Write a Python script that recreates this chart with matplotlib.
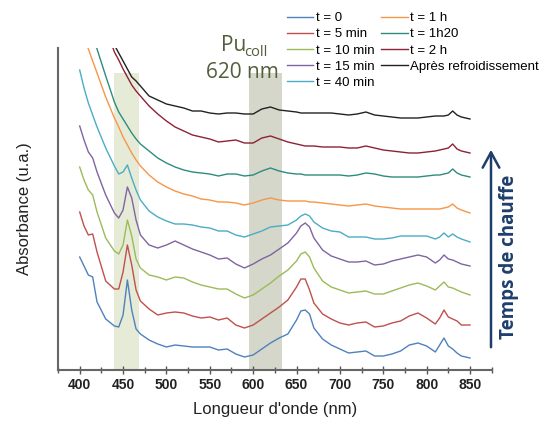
import matplotlib
matplotlib.use("Agg")
import matplotlib.pyplot as plt
from matplotlib.ticker import MultipleLocator

# wavelength grid (nm) and absorbance (u.a.)
wavelength = [400, 405, 410, 415, 420, 430, 440, 445, 450, 455, 460, 465, 470,
              480, 490, 500, 510, 520, 530, 540, 550, 560, 570, 580, 590, 600,
              610, 620, 630, 640, 650, 655, 660, 665, 670, 680, 690, 700, 710,
              720, 730, 740, 750, 760, 770, 780, 790, 800, 810, 815, 820, 825,
              830, 835, 840, 850]

t_0 = [1.13, 1.04, 0.95, 0.93, 0.68, 0.51, 0.44, 0.43, 0.55, 0.90, 0.60, 0.41, 0.36,
       0.30, 0.26, 0.23, 0.25, 0.24, 0.23, 0.23, 0.23, 0.20, 0.21, 0.16, 0.13, 0.15,
       0.21, 0.27, 0.32, 0.36, 0.50, 0.59, 0.60, 0.56, 0.42, 0.31, 0.25, 0.21, 0.17,
       0.18, 0.19, 0.14, 0.14, 0.16, 0.19, 0.25, 0.27, 0.24, 0.18, 0.25, 0.32, 0.24,
       0.21, 0.17, 0.14, 0.12]
t_5min = [1.58, 1.44, 1.35, 1.36, 1.18, 0.89, 0.81, 0.81, 0.98, 1.25, 1.05, 0.80, 0.69,
          0.61, 0.55, 0.57, 0.58, 0.57, 0.54, 0.52, 0.53, 0.50, 0.52, 0.45, 0.42, 0.45,
          0.51, 0.57, 0.63, 0.70, 0.83, 0.91, 0.91, 0.80, 0.67, 0.56, 0.51, 0.47, 0.45,
          0.47, 0.48, 0.43, 0.44, 0.47, 0.49, 0.54, 0.57, 0.52, 0.46, 0.52, 0.60, 0.53,
          0.51, 0.49, 0.45, 0.45]
t_10min = [2.03, 1.90, 1.80, 1.75, 1.58, 1.32, 1.19, 1.16, 1.25, 1.50, 1.34, 1.11, 1.02,
           0.95, 0.93, 0.90, 0.93, 0.92, 0.88, 0.85, 0.83, 0.81, 0.81, 0.76, 0.72, 0.75,
           0.81, 0.87, 0.94, 1.00, 1.09, 1.16, 1.18, 1.13, 1.02, 0.89, 0.83, 0.80, 0.77,
           0.78, 0.79, 0.76, 0.76, 0.79, 0.82, 0.85, 0.87, 0.84, 0.80, 0.84, 0.88, 0.83,
           0.82, 0.80, 0.78, 0.75]
t_15min = [2.44, 2.30, 2.18, 2.12, 1.98, 1.75, 1.57, 1.52, 1.60, 1.83, 1.72, 1.50, 1.35,
           1.25, 1.22, 1.25, 1.29, 1.25, 1.21, 1.18, 1.15, 1.11, 1.12, 1.06, 1.02, 1.06,
           1.11, 1.15, 1.21, 1.27, 1.37, 1.44, 1.47, 1.43, 1.32, 1.20, 1.14, 1.11, 1.08,
           1.08, 1.09, 1.05, 1.06, 1.09, 1.11, 1.13, 1.15, 1.13, 1.07, 1.10, 1.15, 1.11,
           1.10, 1.08, 1.06, 1.04]
t_40min = [3.00, 2.82, 2.67, 2.55, 2.43, 2.22, 2.04, 1.96, 1.98, 2.05, 1.92, 1.80, 1.70,
           1.59, 1.53, 1.49, 1.46, 1.46, 1.45, 1.43, 1.42, 1.39, 1.39, 1.35, 1.33, 1.36,
           1.39, 1.43, 1.44, 1.45, 1.50, 1.54, 1.56, 1.54, 1.48, 1.42, 1.39, 1.38, 1.33,
           1.33, 1.33, 1.31, 1.31, 1.32, 1.34, 1.34, 1.34, 1.34, 1.31, 1.33, 1.37, 1.33,
           1.36, 1.33, 1.31, 1.28]
t_1h = [3.45, 3.33, 3.21, 3.09, 2.97, 2.73, 2.52, 2.43, 2.33, 2.25, 2.17, 2.10, 2.04,
        1.95, 1.88, 1.83, 1.79, 1.76, 1.74, 1.71, 1.70, 1.68, 1.68, 1.67, 1.65, 1.67,
        1.70, 1.72, 1.70, 1.69, 1.69, 1.69, 1.69, 1.68, 1.68, 1.67, 1.66, 1.65, 1.64,
        1.65, 1.66, 1.64, 1.63, 1.62, 1.61, 1.61, 1.61, 1.61, 1.61, 1.61, 1.62, 1.63,
        1.66, 1.62, 1.60, 1.57]
t_1h20 = [3.76, 3.63, 3.50, 3.36, 3.21, 2.94, 2.68, 2.58, 2.51, 2.44, 2.37, 2.31, 2.26,
          2.19, 2.12, 2.07, 2.03, 2.00, 1.98, 1.97, 1.96, 1.94, 1.96, 1.96, 1.94, 1.95,
          1.99, 2.02, 1.99, 1.97, 1.96, 1.96, 1.95, 1.95, 1.95, 1.95, 1.95, 1.95, 1.94,
          1.95, 1.97, 1.96, 1.94, 1.93, 1.93, 1.93, 1.93, 1.94, 1.95, 1.95, 1.96, 1.97,
          2.01, 1.97, 1.95, 1.93]
t_2h = [4.09, 3.98, 3.87, 3.76, 3.65, 3.43, 3.18, 3.10, 3.01, 2.93, 2.85, 2.79, 2.74,
        2.64, 2.56, 2.49, 2.43, 2.39, 2.35, 2.33, 2.31, 2.28, 2.29, 2.30, 2.27, 2.27,
        2.32, 2.34, 2.31, 2.28, 2.26, 2.25, 2.24, 2.24, 2.24, 2.23, 2.23, 2.23, 2.22,
        2.22, 2.24, 2.22, 2.20, 2.19, 2.18, 2.17, 2.17, 2.18, 2.19, 2.20, 2.21, 2.22,
        2.26, 2.21, 2.19, 2.17]
apres = [3.93, 3.85, 3.76, 3.68, 3.60, 3.43, 3.25, 3.17, 3.09, 3.01, 2.93, 2.89, 2.84,
         2.74, 2.70, 2.66, 2.64, 2.62, 2.59, 2.59, 2.57, 2.56, 2.57, 2.57, 2.56, 2.56,
         2.61, 2.63, 2.60, 2.59, 2.58, 2.57, 2.57, 2.57, 2.57, 2.57, 2.57, 2.56, 2.55,
         2.56, 2.58, 2.55, 2.54, 2.53, 2.52, 2.52, 2.52, 2.53, 2.54, 2.54, 2.54, 2.55,
         2.59, 2.55, 2.53, 2.51]

series = [t_0, t_5min, t_10min, t_15min, t_40min, t_1h, t_1h20, t_2h, apres]
labels = ["t = 0", "t = 5 min", "t = 10 min", "t = 15 min", "t = 40 min",
          "t = 1 h", "t = 1h20", "t = 2 h", "Après refroidissement"]
colors = ["#4f81bd", "#c0504d", "#9bbb59", "#8064a2", "#4bacc6",
          "#f79646", "#2e8b80", "#8e2235", "#222222"]

plt.rcParams["font.family"] = ["Liberation Sans", "DejaVu Sans"]

fig = plt.figure(figsize=(5.44, 4.26), dpi=100)
ax = fig.add_axes([58 / 544, 1 - 370 / 426, (491.7 - 58) / 544, (370 - 48) / 426])

# highlighted bands
ax.axvspan(440, 468, ymax=0.922, color="#e6ebd8", lw=0, zorder=0)
ax.axvspan(595, 633, ymax=0.922, color="#d4d7c9", lw=0, zorder=0)

for y, lab, c in zip(series, labels, colors):
    ax.plot(wavelength, y, color=c, lw=1.0, label=lab)

ax.set_xlim(375, 875)
ax.set_ylim(0, 3.22)
ax.xaxis.set_major_locator(MultipleLocator(50))
ax.xaxis.set_minor_locator(MultipleLocator(25))
ax.set_xticks(range(400, 851, 50))
ax.tick_params(axis="x", which="major", direction="inout", length=6, width=1,
               color="#555555", pad=3)
ax.tick_params(axis="x", which="minor", direction="inout", length=5, width=1,
               color="#555555")
ax.tick_params(axis="y", left=False, labelleft=False)
for lbl in ax.get_xticklabels():
    lbl.set_fontweight("bold")
    lbl.set_fontsize(10)
    lbl.set_color("#222222")

for s in ["top", "right"]:
    ax.spines[s].set_visible(False)
for s in ["left", "bottom"]:
    ax.spines[s].set_color("#666666")
    ax.spines[s].set_linewidth(1.5)

ax.set_xlabel("Longueur d'onde (nm)", fontsize=12, labelpad=7, color="#222222")
ax.set_ylabel("Absorbance (u.a.)", fontsize=12, labelpad=19, color="#222222")

# Pu colloid annotation
ax.text(577, 3.25, "Pu", fontsize=15, family="Open Sans", color="#535e3a",
        ha="center", va="center")
ax.text(590, 3.18, "coll", fontsize=10.5, family="Open Sans", color="#535e3a",
        ha="left", va="center")
ax.text(588, 2.97, "620 nm", fontsize=15, family="Open Sans", color="#535e3a",
        ha="center", va="center")

ax.legend(loc="upper left", bbox_to_anchor=(287 / 544, 1 - 12 / 426),
          bbox_transform=fig.transFigure, ncol=2, frameon=False, fontsize=9.5,
          handlelength=2.0, handletextpad=0.2, columnspacing=0.5,
          labelspacing=0.3, borderpad=0, borderaxespad=0)

# heating-time arrow
fig.patches.append(matplotlib.patches.FancyArrowPatch(
    (491 / 544, 1 - 350 / 426), (491 / 544, 1 - 147 / 426),
    transform=fig.transFigure, arrowstyle="->,head_length=0.55,head_width=0.3",
    mutation_scale=20, lw=1.8, color="#203e6b"))
fig.text(509 / 544, 1 - 257 / 426, "Temps de chauffe", rotation=90, fontsize=13.5,
         fontweight="bold", family="Open Sans", color="#203e6b",
         ha="center", va="center")

fig.savefig("out.png", dpi=100)
